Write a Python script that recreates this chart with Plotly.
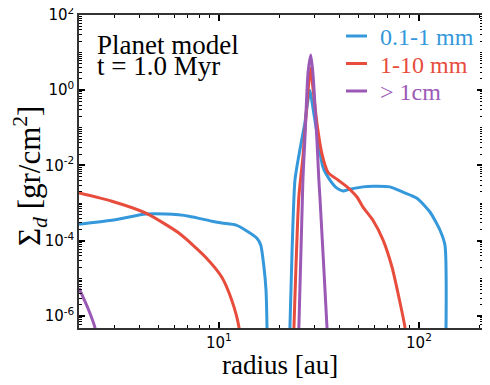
from __future__ import annotations

import plotly.graph_objects as go

# radius [au] and surface density [gr/cm^2]
SMALL_R = [2.0, 2.92, 4.32, 5.43, 7.08, 9.23, 10.35, 12.2, 13.6, 15.5, 16.2, 16.8, 17.2, 17.4, 17.5,
           None,
           22.2, 23.2, 24.0, 25.4, 26.9, 28.5, 29.5, 31.3, 33.1, 35.9, 38.9, 41.7, 45.2, 52.5, 58.9,
           71.6, 83.2, 97.7, 113.5, 127.4, 134.9, 135.3]
SMALL_S = [2.75e-4, 3.5e-4, 5.1e-4, 5.1e-4, 4.5e-4, 3.3e-4, 2.95e-4, 2.6e-4, 1.9e-4, 1.17e-4, 7.6e-5,
           2.0e-5, 4.9e-6, 5.0e-7, 1e-8,
           None,
           1e-8, 4.7e-5, 4.1e-3, 2.6e-2, 1.35e-1, 1.0, 3.5e-1, 4.8e-2, 9.1e-3, 4.1e-3, 2.5e-3, 2.1e-3,
           2.35e-3, 2.7e-3, 2.8e-3, 2.7e-3, 1.95e-3, 1.35e-3, 5.8e-4, 1.9e-4, 7.6e-5, 1e-8]

MID_R = [2.0, 2.92, 4.32, 6.31, 8.61, 10.35, 11.6, 12.6, 12.9,
         None,
         23.5, 25.1, 26.3, 27.9, 28.8, 29.5, 30.9, 32.7, 35.1, 39.4, 43.7, 49.0, 52.5, 58.9, 66.1,
         73.3, 78.5, 85.1, 87.0]
MID_S = [1.85e-3, 1.12e-3, 5.4e-4, 1.6e-4, 3.6e-5, 1.07e-5, 2.6e-6, 5.0e-7, 1e-7,
         None,
         1e-7, 1.45e-3, 1.66e-2, 1.0, 3.9, 1.2, 1.35e-1, 2.1e-2, 6.6e-3, 4.1e-3, 2.7e-3, 1.45e-3,
         7.8e-4, 3.5e-4, 1.05e-4, 2.0e-5, 4.1e-6, 5.0e-7, 1e-7]

BIG_R = [2.0, 2.24, 2.40, 2.5,
         None,
         24.9, 26.3, 26.9, 27.9, 28.8, 29.5, 30.9, 31.6, 32.0, 34.7, 35.2]
BIG_S = [5.5e-6, 1.4e-6, 5.0e-7, 1e-7,
         None,
         1e-7, 4.1e-3, 4.8e-2, 2.9, 8.7, 2.9, 4.8e-2, 4.1e-3, 1.4e-3, 5.0e-7, 1e-7]

SERIES_NAMES = ["0.1-1 mm", "1-10 mm", "&gt; 1cm"]
SERIES_COLORS = ["#3498db", "#e74c3c", "#9b59b6"]

SERIF = "Liberation Serif, Times New Roman, DejaVu Serif, serif"
SANS = "DejaVu Sans"

# the page body keeps its default 8px margin, so the figure is drawn that much smaller
PAGE_OFFSET = 8
WIDTH, HEIGHT = 490 - PAGE_OFFSET, 385 - PAGE_OFFSET

# plot area in window pixels, used to place the hand-made legend and labels
LEFT, RIGHT, TOP, BOTTOM = 79, 483, 15, 328


def _px(x: float, y: float) -> tuple[float, float]:
    return (x - LEFT) / (RIGHT - LEFT), (BOTTOM - y) / (BOTTOM - TOP)


def _axis_style() -> dict:
    return {
        "type": "log",
        "automargin": False,
        "showgrid": False,
        "zeroline": False,
        "showline": True,
        "linecolor": "#333333",
        "linewidth": 1.5,
        "mirror": "allticks",
        "ticks": "inside",
        "ticklen": 6,
        "tickwidth": 1.5,
        "tickcolor": "black",
        "ticklabeloverflow": "allow",
        "tickfont": {"family": SANS, "size": 15, "color": "black"},
        "minor": {"ticks": "inside", "dtick": "D1", "ticklen": 3, "tickwidth": 1,
                  "tickcolor": "black", "showgrid": False},
    }


def _text(text: str, x: float, y: float, size: int, color: str = "black", **kwargs) -> dict:
    px, py = _px(x, y)
    ann = {"text": text, "x": px, "y": py, "xref": "paper", "yref": "paper",
           "xanchor": "left", "yanchor": "middle", "showarrow": False,
           "font": {"family": SERIF, "size": size, "color": color}}
    ann.update(kwargs)
    return ann


def build_figure() -> go.Figure:
    fig = go.Figure()

    series = [(SMALL_R, SMALL_S), (MID_R, MID_S), (BIG_R, BIG_S)]
    for (radius, sigma), name, color in zip(series, SERIES_NAMES, SERIES_COLORS, strict=True):
        fig.add_trace(
            go.Scatter(
                x=radius,
                y=sigma,
                mode="lines",
                name=name,
                line={"color": color, "width": 3, "shape": "spline", "smoothing": 0.6},
                connectgaps=False,
                showlegend=False,
            ),
        )

    xaxis = _axis_style()
    xaxis.update(range=[0.301, 2.32], tickvals=[10, 100],
                 ticktext=["10<sup>1</sup>", "10<sup>2</sup>"])
    yaxis = _axis_style()
    yaxis.update(range=[-6.32, 2.0], tickvals=[1e-6, 1e-4, 1e-2, 1, 100],
                 ticktext=["10<sup>-6</sup>", "10<sup>-4</sup>", "10<sup>-2</sup>",
                           "10<sup>0</sup>", "10<sup>2</sup>"])

    # legend drawn by hand: short line sample plus label in the series colour
    shapes = []
    annotations = []
    for i, (name, color) in enumerate(zip(SERIES_NAMES, SERIES_COLORS, strict=True)):
        row_y = 36 + i * 27.5
        x0, y0 = _px(346, row_y)
        x1, _ = _px(367, row_y)
        shapes.append({"type": "line", "xref": "paper", "yref": "paper",
                       "x0": x0, "x1": x1, "y0": y0, "y1": y0,
                       "line": {"color": color, "width": 3}})
        annotations.append(_text(name, 378, row_y + 1, 24, color))

    annotations += [
        _text("Planet model", 95, 45, 27),
        _text("t = 1.0 Myr", 95, 66, 27),
        _text("radius [au]", 280, 382, 27, xanchor="center", yanchor="bottom"),
        _text("Σ<sub><i>d</i></sub> [gr/cm<sup>2</sup>]", 30, 176, 31,
              xanchor="center", textangle=-90),
    ]

    fig.update_layout(
        width=WIDTH,
        height=HEIGHT,
        margin={"l": LEFT - PAGE_OFFSET, "r": 490 - RIGHT,
                "t": TOP - PAGE_OFFSET, "b": 385 - BOTTOM},
        paper_bgcolor="white",
        plot_bgcolor="white",
        xaxis=xaxis,
        yaxis=yaxis,
        showlegend=False,
        shapes=shapes,
        annotations=annotations,
    )
    return fig


if __name__ == "__main__":
    build_figure().write_html("out.html")
